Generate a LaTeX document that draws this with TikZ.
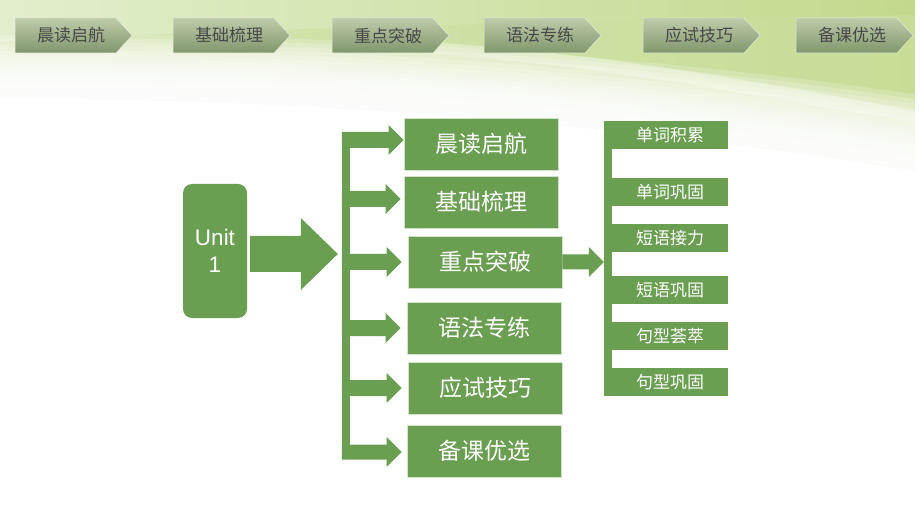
\documentclass[tikz,border=0pt]{standalone}
\usepackage{fontspec}
\setmainfont{Liberation Sans}
\newfontfamily\cjk{Noto Sans CJK SC}
\usetikzlibrary{calc}
\definecolor{gr}{RGB}{106,158,80}
\definecolor{bgpale}{RGB}{226,238,204}
\definecolor{bggreen}{RGB}{194,217,140}
\definecolor{tabtop}{RGB}{190,204,170}
\definecolor{tabbot}{RGB}{128,150,108}
\definecolor{tabtxt}{RGB}{72,72,72}
\tikzset{
  mainbox/.style={fill=gr, draw=white!70!gr, line width=0.6pt, minimum width=154, minimum height=52, inner sep=0pt, text=white, font=\cjk\fontsize{23}{23}\selectfont},
  subbox/.style={fill=gr, minimum width=116, minimum height=28, inner sep=0pt, text=white, font=\cjk\fontsize{17}{17}\selectfont},
  vbar/.style={fill=gr, inner sep=0pt, minimum width=8},
  tabtext/.style={text=tabtxt, font=\cjk\fontsize{17}{17}\selectfont, inner sep=0pt},
  tabshape/.style={top color=tabtop, bottom color=tabbot, draw=white!60!tabtop, line width=0.5pt}
}
\newcommand\blockarrow[5]{% start, tip, shaft half, head half, head length
  \fill[gr] let \p1=#1, \p2=#2 in
    (\x1,{\y2+#3pt}) -- ({\x2-#5pt},{\y2+#3pt}) -- ({\x2-#5pt},{\y2+#4pt}) -- (\x2,\y2)
    -- ({\x2-#5pt},{\y2-#4pt}) -- ({\x2-#5pt},{\y2-#3pt}) -- (\x1,{\y2-#3pt}) -- cycle;}
\newcommand\toptab[3]{% name, left x, text
  \path[tabshape] (#2,18) -- ({#2+101},18) -- ({#2+117},35.5) -- ({#2+101},53) -- (#2,53) -- cycle;
  \node[tabtext] (#1) at ({#2+56},35.5) {#3};}
\begin{document}
\begin{tikzpicture}[x=1pt,y=-1pt]
\useasboundingbox (0,0) rectangle (920,518);
\fill[white] (0,0) rectangle (920,518);
% background
\fill[left color=bgpale, right color=bggreen] (0,0) rectangle (920,240);
\fill[bggreen!70!bgpale, opacity=.6] (0,42) .. controls (250,28) and (550,22) .. (920,15) -- (920,120) .. controls (600,80) and (300,70) .. (0,95) -- cycle;
\fill[white, opacity=.35] (400,40) .. controls (600,52) and (760,82) .. (920,112) -- (920,124) .. controls (740,92) and (580,62) .. (400,52) -- cycle;
\foreach \s in {0,4,...,60} {
  \fill[white, opacity=.2] (0,{35+\s}) .. controls (300,{30+1.05*\s}) and (650,{55+1.12*\s}) .. (920,{95+1.2*\s}) -- (920,520) -- (0,520) -- cycle;
}
\fill[white] (0,99) .. controls (300,97) and (650,127) .. (920,172) -- (920,520) -- (0,520) -- cycle;
\fill[white] (915,0) rectangle (920,200);
% top tabs
\toptab{t1}{15}{晨读启航}
\toptab{t2}{173}{基础梳理}
\toptab{t3}{332}{重点突破}
\toptab{t4}{484}{语法专练}
\toptab{t5}{643}{应试技巧}
\toptab{t6}{796}{备课优选}
% unit
\node[fill=gr, rounded corners=9pt, minimum width=64, minimum height=134, inner sep=0pt, text=white, align=center, font=\fontsize{22.5}{27}\selectfont] (unit) at (215,251) {Unit\\1};
% main bar and boxes
\node[vbar, minimum height=327] (bar) at (346,295.5) {};
\node[mainbox] (b1) at (481,144) {晨读启航};
\node[mainbox] (b2) at (481,202) {基础梳理};
\node[mainbox] (b3) at (485,262) {重点突破};
\node[mainbox] (b4) at (484,328) {语法专练};
\node[mainbox] (b5) at (485,388) {应试技巧};
\node[mainbox] (b6) at (484,451) {备课优选};
\blockarrow{($(unit.east)+(3,0)$)}{($(bar.west |- unit.east)+(-4,3)$)}{18}{36}{37}
\blockarrow{(bar.west)}{($(b1.west)+(0,-4)$)}{8}{15}{15}
\blockarrow{(bar.west)}{($(b2.west)+(-3,-3)$)}{8}{15}{15}
\blockarrow{(bar.west)}{($(b3.west)+(-6,0)$)}{8}{15}{15}
\blockarrow{(bar.west)}{($(b4.west)+(-6,0)$)}{8}{15}{15}
\blockarrow{(bar.west)}{($(b5.west)+(-6,0)$)}{8}{15}{15}
\blockarrow{(bar.west)}{($(b6.west)+(-5,1)$)}{7.5}{15}{15}
% right column
\node[vbar, minimum height=275] (bar2) at (608,258.5) {};
\node[subbox] (r1) at (670,135) {单词积累};
\node[subbox] (r2) at (670,192) {单词巩固};
\node[subbox] (r3) at (670,238) {短语接力};
\node[subbox] (r4) at (670,290) {短语巩固};
\node[subbox] (r5) at (670,336) {句型荟萃};
\node[subbox] (r6) at (670,382) {句型巩固};
\blockarrow{(b3.east)}{(bar2.west |- b3.east)}{7.5}{15}{15}
\end{tikzpicture}
\end{document}
